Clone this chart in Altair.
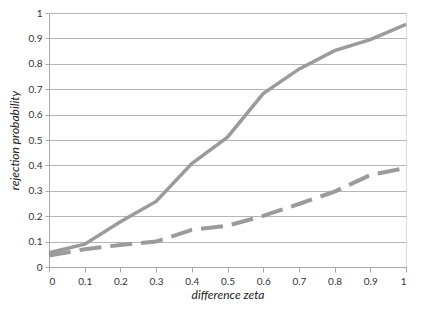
import altair as alt
import pandas as pd

zeta = [0, 0.1, 0.2, 0.3, 0.4, 0.5, 0.6, 0.7, 0.8, 0.9, 1.0]
solid = [0.056, 0.09, 0.178, 0.258, 0.407, 0.511, 0.683, 0.779, 0.852, 0.895, 0.955]
dashed = [0.045, 0.07, 0.087, 0.1, 0.146, 0.163, 0.201, 0.248, 0.297, 0.362, 0.39]

df = pd.DataFrame({"zeta": zeta + zeta,
                   "p": solid + dashed,
                   "series": ["a"] * len(zeta) + ["b"] * len(zeta)})

FONT = "Lato"

x = alt.X("zeta:Q", title="difference zeta",
          scale=alt.Scale(domain=[0, 1], nice=False),
          axis=alt.Axis(values=zeta, format=".1~f", grid=False, labelFontSize=10,
                        labelColor="#333333", labelPadding=4, titleFontSize=12,
                        titleFontStyle="italic", titleFontWeight="normal", titleColor="#222222",
                        titlePadding=3, domainColor="#a8a8a8", tickColor="#a8a8a8",
                        tickSize=5, labelFont=FONT, titleFont=FONT))
y = alt.Y("p:Q", title="rejection probability",
          scale=alt.Scale(domain=[0, 1], nice=False),
          axis=alt.Axis(values=zeta, format=".1~f", grid=True, gridColor="#b5b5b5",
                        gridWidth=1.2, labelFontSize=10, labelColor="#333333",
                        labelPadding=3, titleFontSize=12, titleFontStyle="italic",
                        titleFontWeight="normal", titleColor="#222222", titlePadding=7,
                        domainColor="#a8a8a8", tickColor="#a8a8a8", tickSize=4,
                        labelFont=FONT, titleFont=FONT))

base = alt.Chart(df)
line_a = base.transform_filter("datum.series == 'a'").mark_line(
    color="#9b9b9b", strokeWidth=3.5).encode(x=x, y=y)
line_b = base.transform_filter("datum.series == 'b'").mark_line(
    color="#9b9b9b", strokeWidth=4, strokeDash=[22, 9]).encode(x=x, y=y)

chart = (line_a + line_b).properties(
    width=357, height=254,
    autosize=alt.AutoSizeParams(type="none"),
    padding={"left": 41, "top": 5, "right": 9, "bottom": 36},
).configure_view(stroke=None).configure(font=FONT)

chart.save("out.html", embed_options={"renderer": "svg", "actions": False})
